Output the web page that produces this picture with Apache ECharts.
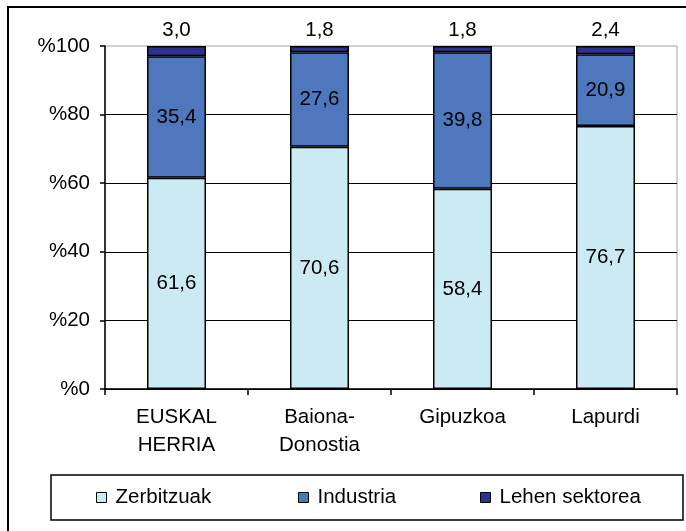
<!DOCTYPE html>
<html>
<head>
<meta charset="utf-8">
<script src="https://cdn.jsdelivr.net/npm/echarts@6/dist/echarts.min.js"></script>
<style>
html,body{margin:0;padding:0;background:#fff;}
#c{width:686px;height:531px;}
</style>
</head>
<body>
<div id="c"></div>
<script>
var categories = ['EUSKAL\nHERRIA', 'Baiona-\nDonostia', 'Gipuzkoa', 'Lapurdi'];
var zerbitzuak = [61.6, 70.6, 58.4, 76.7];
var industria = [35.4, 27.6, 39.8, 20.9];
var lehen = [3.0, 1.8, 1.8, 2.4];
var seriesNames = ['Zerbitzuak', 'Industria', 'Lehen sektorea'];
var yTicks = [0, 20, 40, 60, 80, 100];

var FONT = 'Liberation Sans, Arial, sans-serif';
var FS = 20.5;
var fmt = function (p) { return p.value.toFixed(1).replace('.', ','); };
var colors = ['#CBEAF3', '#4F77BE', '#2B3290'];

var chart = echarts.init(document.getElementById('c'), null, {renderer: 'canvas'});
function mkLegend(name, left) {
  return {
    data: [name], left: left, top: 487, icon: 'rect', itemWidth: 10, itemHeight: 10,
    padding: 0,
    textStyle: {fontFamily: FONT, fontSize: FS, color: '#000', padding: [0, 0, 0, 4]},
    itemStyle: {borderColor: '#000', borderWidth: 1}
  };
}
function mkSeries(name, data, idx, pos) {
  return {
    name: name, type: 'bar', stack: 'all', data: data, barWidth: 59,
    itemStyle: {color: colors[idx], borderColor: '#000', borderWidth: 1.5},
    label: {show: true, position: pos, formatter: fmt, fontFamily: FONT, fontSize: FS, color: '#000', distance: 5},
    emphasis: {disabled: true}
  };
}
chart.setOption({
  animation: false,
  grid: {left: 105, right: 9, top: 46, bottom: 142, show: true, borderColor: '#A0A0A0', borderWidth: 1, backgroundColor: 'transparent'},
  legend: [mkLegend(seriesNames[0], 96), mkLegend(seriesNames[1], 298), mkLegend(seriesNames[2], 480)],
  xAxis: {
    type: 'category', data: categories,
    axisLine: {lineStyle: {color: '#000', width: 1.5}},
    axisTick: {show: true, length: 6, lineStyle: {color: '#000', width: 1.5}},
    axisLabel: {fontFamily: FONT, fontSize: FS, color: '#000', lineHeight: 28, margin: 14}
  },
  yAxis: {
    type: 'value', min: yTicks[0], max: yTicks[yTicks.length - 1], interval: 20,
    axisLine: {show: true, lineStyle: {color: '#000', width: 1.5}},
    axisTick: {show: true, length: 5, lineStyle: {color: '#000', width: 1.5}},
    axisLabel: {fontFamily: FONT, fontSize: FS, color: '#000', margin: 15, formatter: function (v) { return '%' + v; }},
    splitLine: {show: true, showMaxLine: false, lineStyle: {color: '#000', width: 1}}
  },
  graphic: [
    {type: 'rect', shape: {x: 8, y: 7, width: 700, height: 540}, style: {fill: null, stroke: '#000', lineWidth: 2}, silent: true},
    {type: 'rect', shape: {x: 51, y: 475, width: 632, height: 45}, style: {fill: null, stroke: '#000', lineWidth: 1.5}, silent: true}
  ],
  series: [
    mkSeries(seriesNames[0], zerbitzuak, 0, 'inside'),
    mkSeries(seriesNames[1], industria, 1, 'inside'),
    mkSeries(seriesNames[2], lehen, 2, 'top')
  ]
});
</script>
</body>
</html>
